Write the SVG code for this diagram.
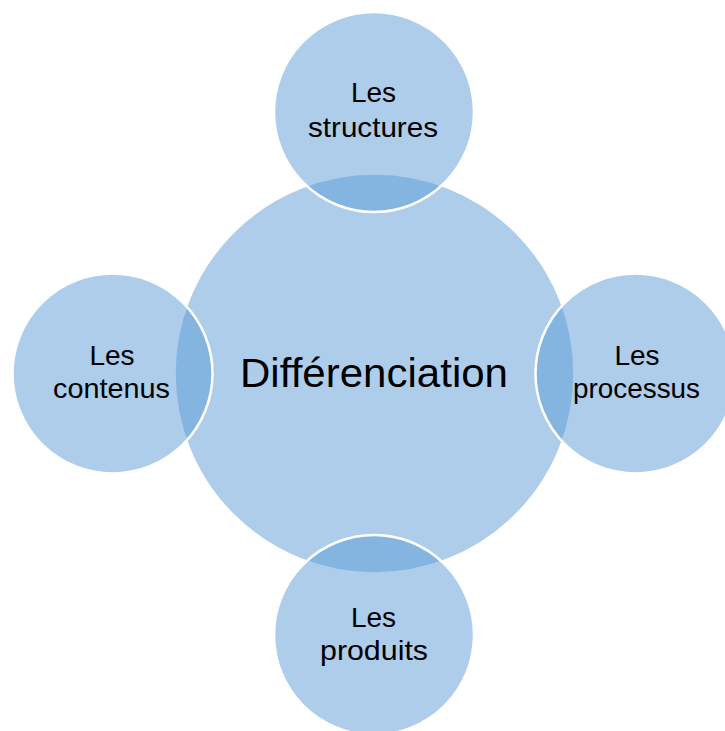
<svg xmlns="http://www.w3.org/2000/svg" width="725" height="731" viewBox="0 0 725 731">
<style>
.c{fill:#5B9BD5;fill-opacity:0.5;stroke:#FFFFFF;stroke-width:2.5}
.t{font-family:"Liberation Sans",Arial,sans-serif;fill:#000000;text-anchor:middle}
.s{font-size:28px}
.b{font-size:41px}
</style>
<rect width="725" height="731" fill="#FFFFFF"/>
<g id="center">
<circle class="c" cx="374.5" cy="373.5" r="200"/>
<text class="t b" x="374" y="387" textLength="268" lengthAdjust="spacingAndGlyphs">Différenciation</text>
</g>
<g id="top">
<circle class="c" cx="374" cy="112" r="100"/>
<text class="t s" x="373.5" y="102">Les</text>
<text class="t s" x="373" y="137" textLength="130" lengthAdjust="spacingAndGlyphs">structures</text>
</g>
<g id="left">
<circle class="c" cx="112.5" cy="373.5" r="100"/>
<text class="t s" x="112" y="365">Les</text>
<text class="t s" x="111.5" y="398" textLength="117" lengthAdjust="spacingAndGlyphs">contenus</text>
</g>
<g id="right">
<circle class="c" cx="635.5" cy="373.5" r="100"/>
<text class="t s" x="637" y="365">Les</text>
<text class="t s" x="636.5" y="398" textLength="127" lengthAdjust="spacingAndGlyphs">processus</text>
</g>
<g id="bottom">
<circle class="c" cx="374" cy="635" r="100"/>
<text class="t s" x="373.5" y="627">Les</text>
<text class="t s" x="374" y="660" textLength="108" lengthAdjust="spacingAndGlyphs">produits</text>
</g>
<g id="connectors"></g>
</svg>
